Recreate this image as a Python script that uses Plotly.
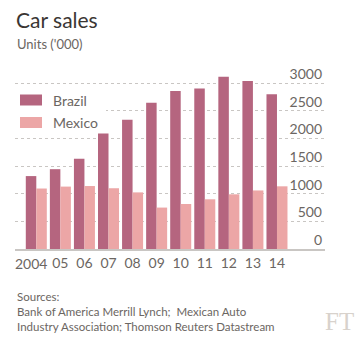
import plotly.graph_objects as go

years = ["2004", "05", "06", "07", "08", "09", "10", "11", "12", "13", "14"]
brazil = [1320, 1445, 1635, 2090, 2340, 2650, 2860, 2905, 3120, 3040, 2800]
mexico = [1095, 1130, 1140, 1100, 1025, 750, 815, 900, 990, 1060, 1135]
series_names = ["Brazil", "Mexico"]
series_colors = ["#b5657f", "#eca6a6"]
y_ticks = [0, 500, 1000, 1500, 2000, 2500, 3000]

W, H = 362, 343
L, R, T, B = 15, 37, 55, 94
FONT = "Lato"
GREY = "#6b6662"

x = list(range(len(years)))

fig = go.Figure()
for name, vals, col in zip(series_names, [brazil, mexico], series_colors):
    fig.add_trace(go.Bar(x=x, y=vals, name=name, marker=dict(color=col, line=dict(width=0)),
                         showlegend=False))

fig.update_layout(
    width=W, height=H,
    margin=dict(l=L, r=R, t=T, b=B),
    paper_bgcolor="white", plot_bgcolor="white",
    barmode="group", bargap=0.127, bargroupgap=0,
    font=dict(family=FONT, color=GREY),
)
# first label is drawn as an annotation, nudged left like the original
fig.update_xaxes(
    range=[-0.885, 11.995], tickvals=x[1:], ticktext=years[1:], tickangle=0,
    showgrid=False, zeroline=False, showline=True, linecolor="#c9c6c3", linewidth=2,
    ticks="", tickfont=dict(size=14, color=GREY, family=FONT),
)
fig.update_yaxes(
    range=[0, 3000 * (H - B - T) / 165.7], tickvals=y_ticks, side="right", ticklabelposition="inside",
    showgrid=True, gridcolor="#c9c6c3", griddash="dot", gridwidth=1, zeroline=False,
    ticks="", tickfont=dict(size=14, color=GREY, family=FONT), ticklabelshift=-9,
    ticklabelstandoff=0,
)

pw, ph = W - L - R, H - T - B
def px(xp):
    return (xp - L) / pw
def py(yp):
    return (H - B - yp) / ph

fig.add_annotation(xref="x", yref="paper", x=x[0], y=0, text=years[0], showarrow=False,
                   xanchor="center", yanchor="middle", xshift=-5, yshift=-14,
                   font=dict(size=14, color=GREY, family=FONT))

# legend background
fig.add_shape(type="rect", xref="paper", yref="paper", x0=px(15), x1=px(106), y0=py(133), y1=py(88),
              fillcolor="white", line=dict(width=0), layer="above")
for i, (name, col) in enumerate(zip(series_names, series_colors)):
    yc = 100 + i * 22.5
    fig.add_shape(type="rect", xref="paper", yref="paper", x0=px(20), x1=px(42), y0=py(yc + 5.5), y1=py(yc - 5.5),
                  fillcolor=col, line=dict(width=0), layer="above")
    fig.add_annotation(xref="paper", yref="paper", x=px(51), y=py(yc), text=name, showarrow=False,
                       xanchor="left", yanchor="middle", font=dict(size=14, color=GREY, family=FONT))

fig.add_annotation(xref="paper", yref="paper", x=px(14), y=py(20), text="Car sales", showarrow=False,
                   xanchor="left", yanchor="middle", font=dict(size=21, color="#3a3633", family=FONT))
fig.add_annotation(xref="paper", yref="paper", x=px(15), y=py(44), text="Units ('000)", showarrow=False,
                   xanchor="left", yanchor="middle", font=dict(size=13, color=GREY, family=FONT))
fig.add_annotation(xref="paper", yref="paper", x=px(15), y=py(288), text="Sources:<br>Bank of America Merrill Lynch;  Mexican Auto<br>Industry Association; Thomson Reuters Datastream",
                   showarrow=False, xanchor="left", yanchor="top", align="left",
                   font=dict(size=11.5, color=GREY, family=FONT))
fig.add_annotation(xref="paper", yref="paper", x=px(356), y=py(321), text="FT", showarrow=False,
                   xanchor="right", yanchor="middle",
                   font=dict(size=25, color="#d8d2cc", family="Liberation Serif"))

fig.write_html("out.html")
